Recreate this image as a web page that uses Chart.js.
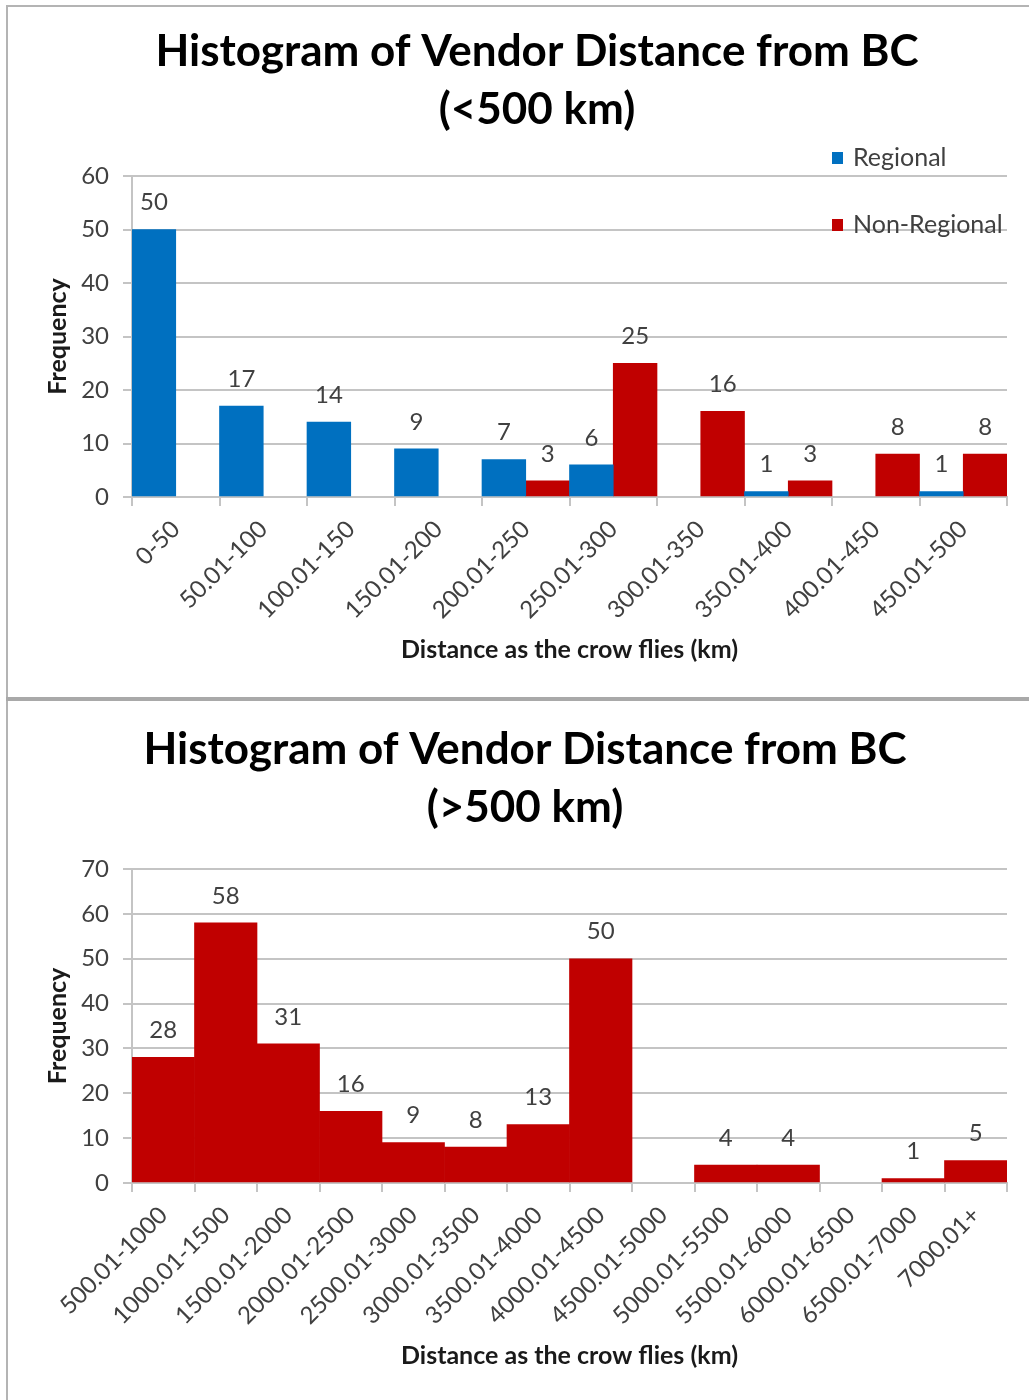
<!DOCTYPE html>
<html>
<head>
<meta charset="utf-8">
<script src="https://cdn.jsdelivr.net/npm/chart.js@4/dist/chart.umd.min.js"></script>
<style>
html, body { margin:0; padding:0; background:#fff; overflow:hidden; width:1029px; height:1400px; }
#c1 { position:absolute; left:0; top:0; }
#c2 { position:absolute; left:0; top:700px; }
.frame { position:absolute; background:#b4b4b4; }
</style>
</head>
<body>
<canvas id="c1" width="1029" height="697"></canvas>
<canvas id="c2" width="1029" height="700"></canvas>
<div class="frame" style="left:6px;top:5px;width:1023px;height:2px"></div>
<div class="frame" style="left:6px;top:5px;width:2px;height:1395px"></div>
<div class="frame" style="left:6px;top:697px;width:1023px;height:4px;background:#a9a9a9"></div>
<script>
// ---------- data ----------
const nearCategories = ['0-50','50.01-100','100.01-150','150.01-200','200.01-250','250.01-300','300.01-350','350.01-400','400.01-450','450.01-500'];
const regionalCounts = [50,17,14,9,7,6,0,1,0,1];
const nonRegionalNearCounts = [0,0,0,0,3,25,16,3,8,8];

const farCategories = ['500.01-1000','1000.01-1500','1500.01-2000','2000.01-2500','2500.01-3000','3000.01-3500','3500.01-4000','4000.01-4500','4500.01-5000','5000.01-5500','5500.01-6000','6000.01-6500','6500.01-7000','7000.01+'];
const nonRegionalFarCounts = [28,58,31,16,9,8,13,50,0,4,4,0,1,5];

const seriesNames = ['Regional','Non-Regional'];
const nearTitle = ['Histogram of Vendor Distance from BC','(<500 km)'];
const farTitle = ['Histogram of Vendor Distance from BC','(>500 km)'];
const xTitle = 'Distance as the crow flies (km)';
const yTitle = 'Frequency';
const nearYMax = 60;
const farYMax = 70;
const yStep = 10;

// ---------- styles ----------
const FONT = 'Lato, "Open Sans", sans-serif';
const BLUE = '#0070C0';
const RED = '#C00000';
const GRID = '#c4c4c4';
const TICK_COLOR = '#404040';

// zero counts are left empty so no sliver is drawn on the axis
const asBars = arr => arr.map(v => (v === 0 ? null : v));

const valueLabels = {
  id: 'valueLabels',
  afterDatasetsDraw(chart) {
    const ctx = chart.ctx;
    ctx.save();
    ctx.font = '24px ' + FONT;
    ctx.fillStyle = TICK_COLOR;
    ctx.textAlign = 'center';
    ctx.textBaseline = 'middle';
    chart.data.datasets.forEach((ds, i) => {
      const meta = chart.getDatasetMeta(i);
      meta.data.forEach((bar, j) => {
        const v = ds.data[j];
        if (v) ctx.fillText(String(v), bar.x, bar.y - 27);
      });
    });
    ctx.restore();
  }
};

const sideLegend = {
  id: 'sideLegend',
  afterDraw(chart, args, opts) {
    if (!opts || !opts.display) return;
    const ctx = chart.ctx;
    ctx.save();
    ctx.font = opts.fontSize + 'px ' + FONT;
    ctx.textBaseline = 'middle';
    ctx.textAlign = 'left';
    chart.data.datasets.forEach((ds, i) => {
      const y = opts.rows[i];
      ctx.fillStyle = ds.backgroundColor;
      ctx.fillRect(opts.x, y - 6, 11, 12);
      ctx.fillStyle = TICK_COLOR;
      ctx.fillText(ds.label, opts.x + 21, y);
    });
    ctx.restore();
  }
};

function makeOptions(cfg) {
  return {
    responsive: false,
    animation: false,
    devicePixelRatio: 1,
    layout: { padding: { left: cfg.padLeft, right: 22, top: 0, bottom: 0 } },
    plugins: {
      legend: { display: false },
      tooltip: { enabled: false },
      title: {
        display: true,
        text: cfg.title,
        color: '#000',
        font: { family: FONT, size: 44, weight: 'bold', lineHeight: 58/44 },
        padding: { top: cfg.titleTop, bottom: cfg.titleBottom }
      },
      sideLegend: cfg.legend
    },
    scales: {
      x: {
        grid: { offset: true, drawOnChartArea: false, drawTicks: true, tickLength: 9, color: GRID, lineWidth: 2 },
        border: { color: GRID, width: 2 },
        ticks: { minRotation: 45, maxRotation: 45, autoSkip: false, color: TICK_COLOR, font: { family: FONT, size: 24 }, padding: 9 },
        title: { display: true, text: xTitle, color: '#1a1a1a', font: { family: FONT, size: 25, weight: 'bold' }, padding: { top: 0, bottom: cfg.xTitleBottom } },
        afterFit: s => { s.height = cfg.xHeight; }
      },
      y: {
        min: 0, max: cfg.yMax,
        ticks: { stepSize: yStep, color: TICK_COLOR, font: { family: FONT, size: 24 }, padding: 14 },
        grid: { color: GRID, lineWidth: 2, tickLength: 9, drawTicks: true },
        border: { color: GRID, width: 2 },
        title: { display: true, text: yTitle, color: '#1a1a1a', font: { family: FONT, size: 25, weight: 'bold' }, padding: { top: cfg.yTitleTop, bottom: 0 } },
        afterFit: s => { s.width = cfg.yWidth; }
      }
    }
  };
}

new Chart(document.getElementById('c1'), {
  type: 'bar',
  data: {
    labels: nearCategories,
    datasets: [
      { label: seriesNames[0], data: asBars(regionalCounts), backgroundColor: BLUE, categoryPercentage: 1, barPercentage: 1, borderWidth: 0 },
      { label: seriesNames[1], data: asBars(nonRegionalNearCounts), backgroundColor: RED, categoryPercentage: 1, barPercentage: 1, borderWidth: 0 }
    ]
  },
  options: makeOptions({
    padLeft: 67, title: nearTitle, titleTop: 23, titleBottom: 37,
    xHeight: 200, xTitleBottom: 32, yMax: nearYMax, yWidth: 65, yTitleTop: -24,
    legend: { display: true, x: 832, rows: [158, 225], fontSize: 25 }
  }),
  plugins: [valueLabels, sideLegend]
});

new Chart(document.getElementById('c2'), {
  type: 'bar',
  data: {
    labels: farCategories,
    datasets: [
      { label: seriesNames[1], data: asBars(nonRegionalFarCounts), backgroundColor: RED, categoryPercentage: 1, barPercentage: 1, borderWidth: 0 }
    ]
  },
  options: makeOptions({
    padLeft: 43, title: farTitle, titleTop: 21, titleBottom: 32,
    xHeight: 217, xTitleBottom: 29, yMax: farYMax, yWidth: 89, yTitleTop: 0,
    legend: { display: false }
  }),
  plugins: [valueLabels, sideLegend]
});
</script>
</body>
</html>
